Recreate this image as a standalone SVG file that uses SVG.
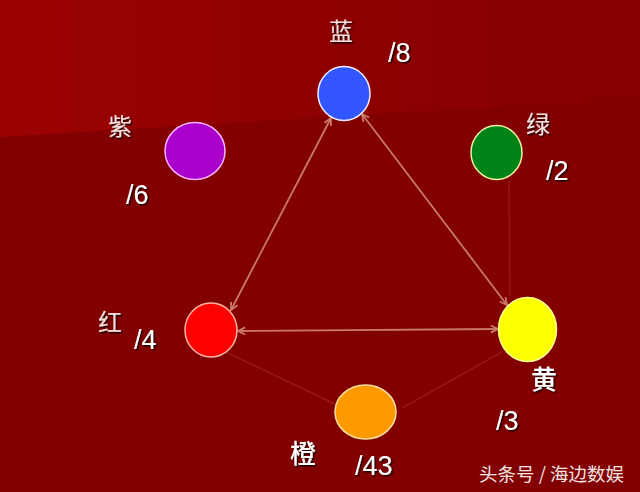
<svg xmlns="http://www.w3.org/2000/svg" width="640" height="492" viewBox="0 0 640 492">
<defs>
<linearGradient id="topg" x1="0" y1="0" x2="1" y2="0">
<stop offset="0" stop-color="#9c0202"/>
<stop offset="0.6" stop-color="#8c0000"/>
<stop offset="1" stop-color="#860000"/>
</linearGradient>
<filter id="sh" x="-30%" y="-30%" width="160%" height="160%">
<feDropShadow dx="1.6" dy="1.6" stdDeviation="0.6" flood-color="#1a0000" flood-opacity="0.9"/>
</filter>
<marker id="ah" viewBox="0 0 10 10" refX="9" refY="5" markerWidth="9" markerHeight="9" markerUnits="userSpaceOnUse" orient="auto-start-reverse">
<path d="M1,1 L9,5 L1,9" fill="none" stroke="#cc7b6b" stroke-width="2"/>
</marker>
<style>
.arrow{stroke:#c8786a;stroke-width:1.8;fill:none;marker-start:url(#ah);marker-end:url(#ah)}
.faint{stroke:#981616;stroke-width:1.5;fill:none}
.num{font-family:"Liberation Sans",Arial,sans-serif;font-size:27px;fill:#ffffff;filter:url(#sh)}
.cn{font-family:"Noto Sans CJK SC",sans-serif;font-size:24px;fill:#f4dede;text-anchor:middle;filter:url(#sh)}
.cnb{font-family:"Noto Sans CJK SC",sans-serif;font-size:26px;fill:#ffffff;text-anchor:middle;font-weight:500;filter:url(#sh)}
.wm{font-family:"Noto Sans CJK SC",sans-serif;font-size:18.5px;fill:#f2e4e4}
</style>
</defs>
<rect width="640" height="492" fill="#820000"/>
<polygon points="0,0 640,0 640,98 0,137" fill="url(#topg)"/>

<g id="connectors">
<line class="faint" x1="509" y1="181" x2="510" y2="296"/>
<line class="faint" x1="226" y1="352" x2="337" y2="405"/>
<line class="faint" x1="402" y1="408" x2="502" y2="352"/>
<line class="arrow" x1="331" y1="118" x2="231" y2="310"/>
<line class="arrow" x1="362" y1="114" x2="507" y2="305"/>
<line class="arrow" x1="238" y1="331" x2="498" y2="329"/>
</g>

<g id="blue">
<ellipse cx="344" cy="93.5" rx="26" ry="27" fill="#3355ff" stroke="#eef0ff" stroke-width="1.5"/>
<text class="cn" x="341" y="40">蓝</text>
<text class="num" x="388" y="62">/8</text>
</g>
<g id="purple">
<ellipse cx="195" cy="151" rx="30" ry="28.5" fill="#aa00cc" stroke="#ffb0ff" stroke-width="1.5"/>
<text class="cn" x="120" y="135">紫</text>
<text class="num" x="126" y="204">/6</text>
</g>
<g id="green">
<ellipse cx="496.5" cy="152.5" rx="25.5" ry="27" fill="#008418" stroke="#f2f0a0" stroke-width="1.5"/>
<text class="cn" x="538" y="133">绿</text>
<text class="num" x="546" y="180">/2</text>
</g>
<g id="red">
<ellipse cx="211" cy="330" rx="26" ry="27" fill="#ff0000" stroke="#ffb4a4" stroke-width="1.5"/>
<text class="cn" x="110" y="331">红</text>
<text class="num" x="134" y="349">/4</text>
</g>
<g id="yellow">
<ellipse cx="527.5" cy="329.5" rx="29" ry="32" fill="#ffff00" stroke="#ffff90" stroke-width="1.5"/>
<text class="cnb" x="544" y="389">黄</text>
<text class="num" x="496" y="430">/3</text>
</g>
<g id="orange">
<ellipse cx="365.5" cy="412" rx="30.5" ry="27" fill="#ff9900" stroke="#ffe0a0" stroke-width="1.5"/>
<text class="cnb" x="303" y="463">橙</text>
<text class="num" x="355" y="475">/43</text>
</g>
<text class="wm" x="479" y="481">头条号 / 海边数娱</text>
</svg>
